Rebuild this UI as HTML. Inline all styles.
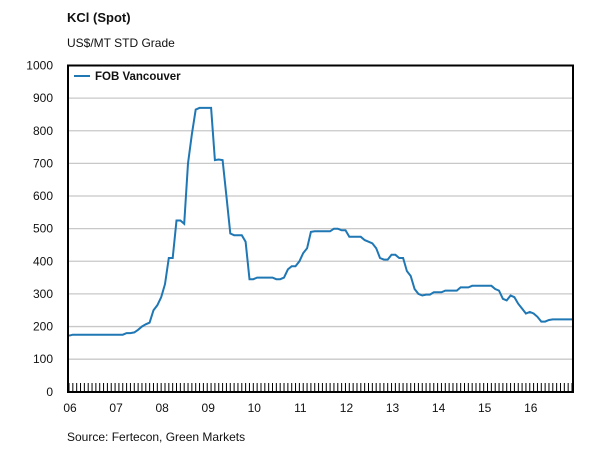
<!DOCTYPE html>
<html><head><meta charset="utf-8"><style>
body{margin:0;background:#fff;font-family:"Liberation Sans",sans-serif;}
svg text{font-family:"Liberation Sans",sans-serif;fill:#111;}
</style></head><body>
<svg width="605" height="451" xmlns="http://www.w3.org/2000/svg">
<text x="67" y="22" font-size="13" font-weight="bold">KCl (Spot)</text>
<text x="67" y="47" font-size="12">US$/MT STD Grade</text>
<g id="grid"></g>
<g id="yaxis"></g>
<g id="xaxis"></g>
<path id="line" fill="none" stroke="#1f77b4" stroke-width="2"/>
<rect x="68" y="65.5" width="505" height="326.5" fill="none" stroke="#000" stroke-width="2"/>
<g>
<line x1="74" y1="76" x2="90" y2="76" stroke="#1f77b4" stroke-width="2"/>
<text x="95" y="80" font-size="11.5" font-weight="bold">FOB Vancouver</text>
</g>
<text x="67" y="441" font-size="12">Source: Fertecon, Green Markets</text>
</svg>
<script>
const yTicks=[0,100,200,300,400,500,600,700,800,900,1000];
const yearLabels=["06","07","08","09","10","11","12","13","14","15","16"];
const y2006=[172,175,175,175,175,175,175,175,175,175,175,175];
const y2007=[175,175,175,180,180,182,190,200,207,212,250,265];
const y2008=[290,330,410,410,525,525,515,700,790,865,870,870];
const y2009=[870,870,710,712,710,600,485,480,480,480,460,345];
const y2010=[345,350,350,350,350,350,345,345,350,375,385,385];
const y2011=[400,425,440,490,492,492,492,492,492,500,500,495];
const y2012=[495,475,475,475,475,465,460,455,440,410,405,405];
const y2013=[420,420,410,410,370,355,315,300,295,298,298,305];
const y2014=[305,305,310,310,310,310,320,320,320,325,325,325];
const y2015=[325,325,325,315,310,285,280,295,290,270,255,240];
const y2016=[245,240,230,215,215,220,222,222,222,222,222,222];
const values=[].concat(y2006,y2007,y2008,y2009,y2010,y2011,y2012,y2013,y2014,y2015,y2016);
const NS="http://www.w3.org/2000/svg";
const x=m=>69+m*(503/131);
const y=v=>391.8-v*0.3263;
const grid=document.getElementById('grid'),ya=document.getElementById('yaxis'),xa=document.getElementById('xaxis');
yTicks.forEach(v=>{
 if(v>0&&v<1000){const l=document.createElementNS(NS,'line');
 l.setAttribute('x1',68);l.setAttribute('x2',573);l.setAttribute('y1',y(v));l.setAttribute('y2',y(v));
 l.setAttribute('stroke','#c8c8c8');l.setAttribute('stroke-width','1.3');
 
 
 grid.appendChild(l);}
 const t=document.createElementNS(NS,'text');
 t.setAttribute('x',53);t.setAttribute('y',y(v)+4);t.setAttribute('text-anchor','end');t.setAttribute('font-size','12');
 t.textContent=v;
 
 
 ya.appendChild(t);
});
for(let m=0;m<132;m++){
 const l=document.createElementNS(NS,'line');
 l.setAttribute('x1',x(m));l.setAttribute('x2',x(m));l.setAttribute('y1',383);l.setAttribute('y2',392);
 l.setAttribute('stroke','#000');l.setAttribute('stroke-width','1');
 
 
 xa.appendChild(l);
}
yearLabels.forEach((s,i)=>{
 const t=document.createElementNS(NS,'text');
 t.setAttribute('x',x(i*12)+1);t.setAttribute('y',412);t.setAttribute('text-anchor','middle');t.setAttribute('font-size','12');
 t.textContent=s;
 
 
 xa.appendChild(t);
});
document.getElementById('line').setAttribute('d',values.map((v,i)=>(i?'L':'M')+x(i).toFixed(1)+','+y(v).toFixed(1)).join(''));
</script>
</body></html>
